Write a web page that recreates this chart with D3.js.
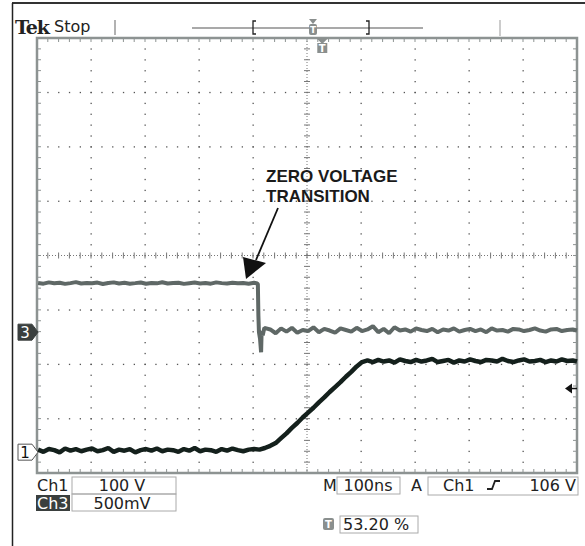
<!DOCTYPE html>
<html>
<head>
<meta charset="utf-8">
<script src="https://cdn.jsdelivr.net/npm/d3@7"></script>
<style>
  body { margin: 0; background: #fff; }
  svg { display: block; font-family: "DejaVu Sans", sans-serif; }
</style>
</head>
<body>
<svg id="scope" width="585" height="546"></svg>
<script>

  // Ch1 (100 V/div), time in ns relative to trigger
  var ch1Time = [-530,-520,-510,-500,-490,-480,-470,-460,-450,-440,-430,-420,-410,-400,-390,-380,-370,-360,-350,-340,
    -330,-320,-310,-300,-290,-280,-270,-260,-250,-240,-230,-220,-210,-200,-190,-180,-170,-160,-150,-140,-130,
    -120,-110,-100,-90,-80,-70,-60,-50,-40,-30,-20,-10,0,10,20,30,40,50,60,70,80,
    90,100,110,120,130,140,150,160,170,180,190,200,210,220,230,240,250,260,270,280,290,300,310,320,330,
    340,350,360,370,380,390,400,410,420,430,440,450,460,468];
  var ch1Volts = [1,-3,2,0,-4,3,-1,2,-2,1, 3,-2,0,4,-3,1,-1,2,-4,0, 2,-1,3,-2,1,0,-3,2,-1,4, -2,1,0,-3,2,-1,3,0,-2,1, 2,
    1,4,8,13,22,31,41,50,60,69,78,88,97,107,116,125,135,144,154,162,165,
    162,166,163,165,161,167,164,162,166,163, 165,168,162,164,166,161,165,163,167,164,
    162,166,165,163,168,164,162,165,167,163, 164,166,162,165,163,167,164,165,163];

  // Ch3 (500 mV/div)
  var ch3Time = [-530,-520,-510,-500,-490,-480,-470,-460,-450,-440,-430,-420,-410,-400,-390,-380,-370,-360,-350,-340,
    -330,-320,-310,-300,-290,-280,-270,-260,-250,-240,-230,-220,-210,-200,-190,-180,-170,-160,-150,-140,-130,
    -124,-123,-122,-121,-119,-117,-116,-114,-111,
    -100,-90,-80,-70,-60,-50,-40,-30,-20,-10,0,10,20,30,40,50,60,70,80,90,100,110,120,130,140,150,160,170,180,190,
    200,210,220,230,240,250,260,270,280,290,300,310,320,330,340,350,360,370,380,390,400,410,420,430,440,450,460,468];
  var ch3mV = [452,446,458,449,455,444,451,460,447,453, 449,456,443,452,458,448,454,446,451,457,
    445,453,449,459,447,452,455,444,450,456, 448,453,446,458,451,447,455,449,452,446, 454,
    448,440,150,0,-60,-185,10,-30,40,
    25,-10,35,5,40,-5,20,10,45,0, 30,15,-5,35,20,5,40,10,25,55, 0,30,-10,45,15,25,5,35,20,10,
    30,0,25,15,35,5,20,30,10,25, 0,35,15,20,5,30,25,10,20,35, 15,5,25,30,10,20,25,15];

  var ch1Ground = -3.58;   // divisions from centre
  var ch3Ground = -1.41;
  var trigLevel = 106;     // V

  var svg = d3.select('#scope');

  var x = d3.scaleLinear().domain([-532, 468]).range([37, 577]);
  var xDiv = d3.scaleLinear().domain([0, 10]).range([37, 577]);
  var yDiv = d3.scaleLinear().domain([-4, 4]).range([473, 38]);

  var grey = '#8d9392';

  // outer frame
  svg.append('line').attr('x1', 12).attr('x2', 585).attr('y1', 3).attr('y2', 3)
    .attr('stroke', '#333').attr('stroke-width', 2);
  svg.append('line').attr('x1', 12.5).attr('x2', 12.5).attr('y1', 3).attr('y2', 546)
    .attr('stroke', '#222').attr('stroke-width', 1.5);

  var grid = svg.append('g');
  var minorX = d3.range(0, 10.001, 0.2);
  var minorY = d3.range(-4, 4.001, 0.2);

  // dotted graticule
  [1, 2, 3, 4, 6, 7, 8, 9].forEach(function (i) {
    grid.selectAll(null).data(minorY).enter().append('rect')
      .attr('x', xDiv(i) - 0.5).attr('y', function (d) { return yDiv(d) - 0.5; })
      .attr('width', 1.3).attr('height', 1.3).attr('fill', '#555');
  });
  [-3, -2, -1, 1, 2, 3].forEach(function (j) {
    grid.selectAll(null).data(minorX).enter().append('rect')
      .attr('y', yDiv(j) - 0.5).attr('x', function (d) { return xDiv(d) - 0.5; })
      .attr('width', 1.3).attr('height', 1.3).attr('fill', '#555');
  });

  // centre lines with ticks
  grid.append('line').attr('x1', xDiv(5)).attr('x2', xDiv(5)).attr('y1', yDiv(4)).attr('y2', yDiv(-4))
    .attr('stroke', '#777').attr('stroke-dasharray', '1,2');
  grid.append('line').attr('x1', xDiv(0)).attr('x2', xDiv(10)).attr('y1', yDiv(0)).attr('y2', yDiv(0))
    .attr('stroke', '#777').attr('stroke-dasharray', '1,2');
  grid.selectAll(null).data(minorY).enter().append('line')
    .attr('x1', xDiv(5) - 3).attr('x2', xDiv(5) + 3)
    .attr('y1', function (d) { return yDiv(d); }).attr('y2', function (d) { return yDiv(d); })
    .attr('stroke', '#777');
  grid.selectAll(null).data(minorX).enter().append('line')
    .attr('y1', yDiv(0) - 3).attr('y2', yDiv(0) + 3)
    .attr('x1', function (d) { return xDiv(d); }).attr('x2', function (d) { return xDiv(d); })
    .attr('stroke', '#777');

  // border ticks
  grid.selectAll(null).data(minorX).enter().append('line')
    .attr('x1', function (d) { return xDiv(d); }).attr('x2', function (d) { return xDiv(d); })
    .attr('y1', yDiv(4)).attr('y2', yDiv(4) + 4).attr('stroke', grey);
  grid.selectAll(null).data(minorX).enter().append('line')
    .attr('x1', function (d) { return xDiv(d); }).attr('x2', function (d) { return xDiv(d); })
    .attr('y1', yDiv(-4)).attr('y2', yDiv(-4) - 4).attr('stroke', grey);
  grid.selectAll(null).data(minorY).enter().append('line')
    .attr('y1', function (d) { return yDiv(d); }).attr('y2', function (d) { return yDiv(d); })
    .attr('x1', xDiv(0)).attr('x2', xDiv(0) + 4).attr('stroke', grey);
  grid.selectAll(null).data(minorY).enter().append('line')
    .attr('y1', function (d) { return yDiv(d); }).attr('y2', function (d) { return yDiv(d); })
    .attr('x1', xDiv(10)).attr('x2', xDiv(10) - 4).attr('stroke', grey);
  grid.append('rect').attr('x', 37).attr('y', 38).attr('width', 540).attr('height', 435)
    .attr('fill', 'none').attr('stroke', grey).attr('stroke-width', 2.5);

  // traces
  var ch1Line = d3.line()
    .x(function (d) { return x(d[0]); })
    .y(function (d) { return yDiv(ch1Ground + d[1] / 100); });
  var ch3Line = d3.line()
    .x(function (d) { return x(d[0]); })
    .y(function (d) { return yDiv(ch3Ground + d[1] / 500); });

  svg.append('path').datum(d3.zip(ch3Time, ch3mV)).attr('d', ch3Line)
    .attr('fill', 'none').attr('stroke', '#5f6866').attr('stroke-width', 4).attr('stroke-linejoin', 'bevel');
  svg.append('path').datum(d3.zip(ch1Time, ch1Volts)).attr('d', ch1Line)
    .attr('fill', 'none').attr('stroke', '#14201c').attr('stroke-width', 4.5).attr('stroke-linejoin', 'bevel');

  // channel ground markers
  function marker(label, yPos, dark) {
    var g = svg.append('g').attr('transform', 'translate(18,' + yPos + ')');
    g.append('path').attr('d', 'M0,-8 L14,-8 L20,0 L14,8 L0,8 Z')
      .attr('fill', dark ? '#3a3f3e' : '#fff').attr('stroke', dark ? '#3a3f3e' : '#555');
    g.append('text').attr('x', 7).attr('y', 6).attr('text-anchor', 'middle')
      .attr('font-size', 15).attr('fill', dark ? '#fff' : '#111').text(label);
  }
  marker('3', yDiv(ch3Ground), true);
  marker('1', yDiv(ch1Ground) + 2, false);

  // trigger level arrow on the right
  var ty = yDiv(ch1Ground + trigLevel / 100) - 4;
  svg.append('path').attr('d', 'M565,' + ty + ' L572,' + (ty - 5) + ' L572,' + (ty + 5) + ' Z').attr('fill', '#111');
  svg.append('line').attr('x1', 570).attr('x2', 577).attr('y1', ty).attr('y2', ty).attr('stroke', '#111').attr('stroke-width', 1.5);

  // header
  svg.append('text').attr('x', 15).attr('y', 34).attr('font-family', '"DejaVu Serif", serif')
    .attr('font-weight', 'bold').attr('font-size', 19).attr('fill', '#222').attr('letter-spacing', -1.2).text('Tek');
  svg.append('text').attr('x', 54).attr('y', 32).attr('font-size', 16).attr('fill', '#222').text('Stop');
  svg.append('line').attr('x1', 115).attr('x2', 115).attr('y1', 20).attr('y2', 35).attr('stroke', '#999').attr('stroke-width', 1.5);
  svg.append('line').attr('x1', 500).attr('x2', 500).attr('y1', 20).attr('y2', 36).attr('stroke', '#bbb').attr('stroke-width', 1.5);
  svg.append('line').attr('x1', 192).attr('x2', 423).attr('y1', 28).attr('y2', 28).attr('stroke', '#555').attr('stroke-width', 1.2);
  svg.append('path').attr('d', 'M256,21 L253,21 L253,34 L256,34').attr('fill', 'none').attr('stroke', '#222').attr('stroke-width', 1.3);
  svg.append('path').attr('d', 'M366,21 L369,21 L369,34 L366,34').attr('fill', 'none').attr('stroke', '#222').attr('stroke-width', 1.3);
  // trigger position icons
  svg.append('path').attr('d', 'M309,19 L317,19 L313,24 Z').attr('fill', '#8a8f8e');
  svg.append('rect').attr('x', 309).attr('y', 24).attr('width', 8).attr('height', 11).attr('rx', 2).attr('fill', '#8a8f8e');
  svg.append('text').attr('x', 313).attr('y', 33).attr('text-anchor', 'middle').attr('font-size', 9).attr('font-weight', 'bold').attr('fill', '#fff').text('T');
  var tx = x(0) - 2;
  svg.append('path').attr('d', 'M' + (tx - 6) + ',38 L' + (tx + 6) + ',38 L' + tx + ',44 Z').attr('fill', '#8a8f8e');
  svg.append('rect').attr('x', tx - 5).attr('y', 43).attr('width', 10).attr('height', 10).attr('fill', '#8a8f8e');
  svg.append('text').attr('x', tx).attr('y', 52).attr('text-anchor', 'middle').attr('font-size', 10).attr('font-weight', 'bold').attr('fill', '#fff').text('T');

  // annotation
  svg.append('text').attr('x', 266).attr('y', 182).attr('font-family', '"Liberation Sans", Arial, sans-serif')
    .attr('font-weight', 'bold').attr('font-size', 17).attr('fill', '#1a1a1a').text('ZERO VOLTAGE');
  svg.append('text').attr('x', 266).attr('y', 202).attr('font-family', '"Liberation Sans", Arial, sans-serif')
    .attr('font-weight', 'bold').attr('font-size', 17).attr('fill', '#1a1a1a').text('TRANSITION');
  svg.append('line').attr('x1', 278).attr('y1', 208).attr('x2', 256).attr('y2', 260).attr('stroke', '#111').attr('stroke-width', 1.8);
  svg.append('path').attr('d', 'M243,257 L266,263 L246,279 Z').attr('fill', '#111');

  // bottom readouts
  var foot = svg.append('g').attr('font-size', 16).attr('fill', '#222');
  function box(x0, y0, w, h) {
    foot.append('rect').attr('x', x0).attr('y', y0).attr('width', w).attr('height', h)
      .attr('fill', 'none').attr('stroke', '#aaa').attr('stroke-width', 1);
  }
  foot.append('text').attr('x', 37).attr('y', 491).text('Ch1');
  box(72, 477, 104, 17);
  foot.append('text').attr('x', 122).attr('y', 491).attr('text-anchor', 'middle').text('100 V');
  foot.append('rect').attr('x', 36).attr('y', 495).attr('width', 34).attr('height', 16).attr('fill', '#3a3f3e');
  foot.append('text').attr('x', 37).attr('y', 509).attr('fill', '#fff').text('Ch3');
  box(72, 494, 104, 17);
  foot.append('text').attr('x', 122).attr('y', 509).attr('text-anchor', 'middle').text('500mV');

  foot.append('text').attr('x', 323).attr('y', 491).text('M');
  box(337, 477, 63, 17);
  foot.append('text').attr('x', 368).attr('y', 491).attr('text-anchor', 'middle').text('100ns');
  foot.append('text').attr('x', 411).attr('y', 491).text('A');
  box(428, 477, 150, 18);
  foot.append('text').attr('x', 443).attr('y', 491).text('Ch1');
  foot.append('path').attr('d', 'M487,489 L492,489 L495,481 L500,481').attr('fill', 'none').attr('stroke', '#222').attr('stroke-width', 1.8);
  foot.append('text').attr('x', 576).attr('y', 491).attr('text-anchor', 'end').text('106 V');

  foot.append('rect').attr('x', 323).attr('y', 518).attr('width', 11).attr('height', 12).attr('rx', 2).attr('fill', '#8a8f8e');
  foot.append('text').attr('x', 328.5).attr('y', 528).attr('text-anchor', 'middle').attr('font-size', 10).attr('font-weight', 'bold').attr('fill', '#fff').text('T');
  box(340, 516, 78, 17);
  foot.append('text').attr('x', 343).attr('y', 530).text('53.20 %');

</script>
</body>
</html>
